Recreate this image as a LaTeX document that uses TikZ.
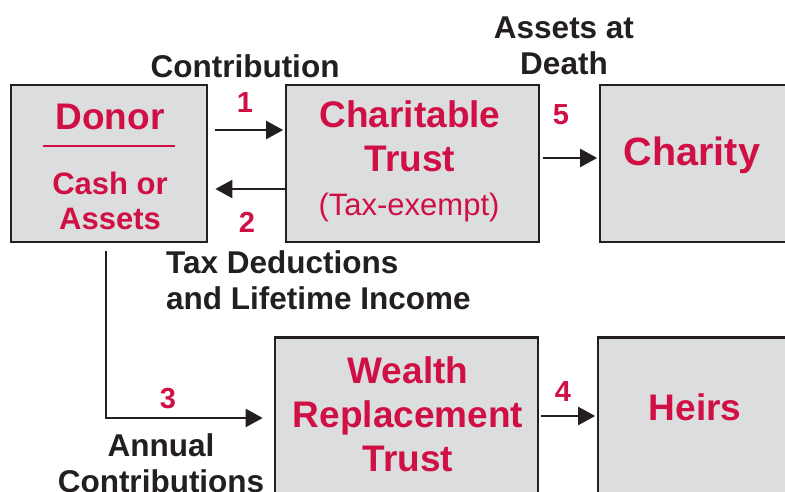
\documentclass[tikz,border=0pt]{standalone}
\usepackage{fontspec}
\setmainfont{Liberation Sans}
\usetikzlibrary{arrows.meta}

\definecolor{trustred}{RGB}{208,16,68}
\definecolor{boxgray}{RGB}{220,221,223}
\definecolor{ink}{RGB}{35,31,32}

\begin{document}
\begin{tikzpicture}[x=1pt,y=1pt]
    \tikzset{box/.style={draw=ink, line width=2.7pt, fill=boxgray, inner sep=0pt}};
    \tikzset{arr/.style={draw=ink, line width=2.2pt, -{Triangle[length=17pt,width=18pt]}}};
    \tikzset{title/.style={text=trustred, inner sep=0pt, align=center, font=\fontsize{37}{44}\selectfont\bfseries}};
    \tikzset{sub/.style={text=trustred, inner sep=0pt, align=center, font=\fontsize{31}{35}\selectfont\bfseries}};
    \tikzset{num/.style={text=trustred, inner sep=0pt, font=\fontsize{29}{34}\selectfont\bfseries}};
    \tikzset{lbl/.style={text=ink, inner sep=0pt, font=\fontsize{31.5}{36}\selectfont\bfseries}};

    \useasboundingbox (0,0) rectangle (785,492);

    % top row
    \node[box, minimum width=196pt, minimum height=157pt] (donor) at (109,328.5) {};
    \node[box, minimum width=253pt, minimum height=157pt] (ctrust) at (412.5,328.5) {};
    \node[box, minimum width=210pt, minimum height=157pt] (charity) at (705,328.5) {};

    % bottom row
    \node[box, minimum width=263pt, minimum height=193pt] (wrt) at (406.5,58) {};
    \node[box, minimum width=212pt, minimum height=193pt] (heirs) at (704,58) {};

    % box texts
    \node[title] (donortxt) at (110,375) {Donor};
    \draw[trustred, line width=2.7pt] (43,346) -- (175,346);
    \node[sub] (cashtxt) at (110,291.5) {Cash or\\Assets};

    \node[title] (ctrusttxt) at (410,355.5) {Charitable\\Trust};
    \node[text=trustred, inner sep=0pt, font=\fontsize{31}{35}\selectfont] (exempt) at (409,285) {(Tax-exempt)};

    \node[title, font=\fontsize{39.5}{44}\selectfont\bfseries] (charitytxt) at (692,337) {Charity};
    \node[title] (wrttxt) at (408,78) {Wealth\\Replacement\\Trust};
    \node[title] (heirstxt) at (695,85) {Heirs};

    % connectors
    \draw[arr, shorten <=7pt, shorten >=1.5pt] ([yshift=33.5pt]donor.east) -- ([yshift=33.5pt]ctrust.west);
    \draw[arr, shorten >=7pt] ([yshift=-25.5pt]ctrust.west) -- ([yshift=-25.5pt]donor.east);
    \draw[arr, shorten <=3pt, shorten >=1.5pt] ([yshift=5.5pt]ctrust.east) -- ([yshift=5.5pt]charity.west);
    \draw[arr, shorten <=2pt, shorten >=1.5pt] ([yshift=18pt]wrt.east) -- ([yshift=18pt]heirs.west);
    \draw[arr, shorten <=8pt, shorten >=11pt] ([xshift=-3pt]donor.south) |- ([yshift=16pt]wrt.west);

    % step numbers
    \node[num] (n1) at (245,389) {1};
    \node[num] (n2) at (247,270) {2};
    \node[num] (n3) at (168,93) {3};
    \node[num] (n4) at (563,100) {4};
    \node[num] (n5) at (561,377) {5};

    % captions
    \node[lbl] (contrib) at (245,426) {Contribution};
    \node[lbl, align=left, anchor=west] (taxded) at (166,211.5) {Tax Deductions\\and Lifetime Income};
    \node[lbl, align=center] (atdeath) at (564,446.5) {Assets at\\Death};
    \node[lbl, align=center] (annual) at (161,28.5) {Annual\\Contributions};
\end{tikzpicture}
\end{document}
